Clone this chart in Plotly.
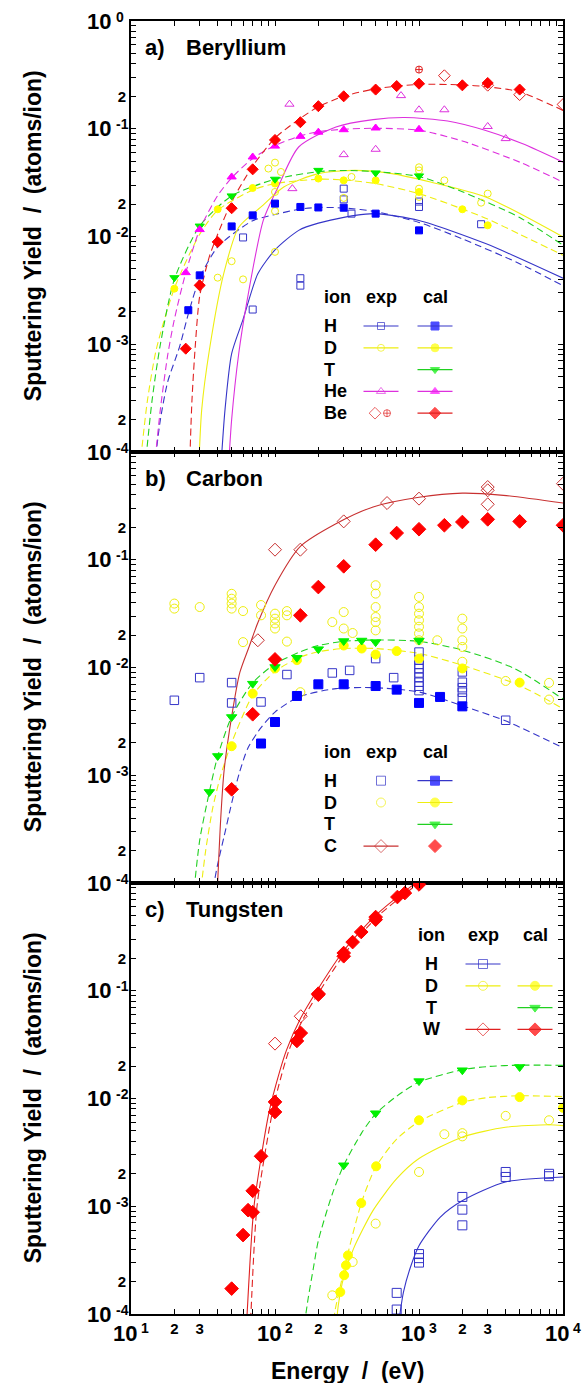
import math
import plotly.graph_objects as go
from plotly.subplots import make_subplots

FONT = "Liberation Sans, Arial, Helvetica, sans-serif"

# ---------------- axis ticks ----------------
x_major_vals = [10, 100, 1000, 10000]
x_major_exp = ["1", "2", "3", "4"]
x_small_vals = [20, 30, 200, 300, 2000, 3000]
x_small_text = ["2", "3", "2", "3", "2", "3"]
x_minor = [10, 40, 50, 60, 70, 80, 90, 100, 400, 500, 600, 700, 800, 900, 1000,
           4000, 5000, 6000, 7000, 8000, 9000, 10000]
y_major_vals = [1e-4, 1e-3, 1e-2, 1e-1, 1]
y_major_exp = ["-4", "-3", "-2", "-1", "0"]
y_small_vals = [2e-4, 2e-3, 2e-2, 2e-1]
y_small_text = ["2", "2", "2", "2"]
y_minor = [m * 10.0 ** d for d in range(-4, 0) for m in (1, 3, 4, 5, 6, 7, 8, 9)] + [1]

# ---------------- panel a : Beryllium ----------------
be_H_exp_E = [60, 70, 150, 150, 300, 300, 340, 1000, 1000, 2700]
be_H_exp_Y = [0.0098, 0.0021, 0.0041, 0.0035, 0.0278, 0.0221, 0.0163, 0.0211, 0.0188, 0.0130]
be_H_fit_E = [42, 45, 50, 60, 76, 100, 146, 200, 360, 500, 1000, 2900, 10000]
be_H_fit_Y = [7e-5, 2.5e-4, 8.2e-4, 1.7e-3, 4.5e-3, 7.5e-3, 0.0114, 0.0133, 0.0157, 0.0163, 0.0141, 0.0086, 0.0041]
be_H_cal_E = [25, 30, 50, 70, 100, 150, 200, 300, 500, 1000]
be_H_cal_Y = [0.00207, 0.00436, 0.0124, 0.0157, 0.0202, 0.0188, 0.0186, 0.0185, 0.0163, 0.0114]
be_H_cfit_E = [14.5, 16, 18, 21.7, 25.5, 30, 40, 70, 100, 150, 200, 300, 500, 1000, 2000, 5000, 10000]
be_H_cfit_Y = [7e-5, 2e-4, 4.5e-4, 9.4e-4, 2.1e-3, 4.1e-3, 8e-3, 0.0140, 0.0160, 0.0180, 0.0186, 0.0184, 0.0170, 0.0135, 0.0095, 0.0056, 0.0035]

be_D_exp_E = [40, 50, 60, 100, 100, 90, 110, 100, 100, 300, 340, 1000, 1000, 1000, 1000, 1500, 3000, 2700]
be_D_exp_Y = [0.00415, 0.0059, 0.0040, 0.0072, 0.0485, 0.0427, 0.0397, 0.0259, 0.0172, 0.0228, 0.0357,
              0.0439, 0.0411, 0.0278, 0.0233, 0.0332, 0.025, 0.0206]
be_D_fit_E = [29.5, 31, 35, 44, 56, 80, 115, 200, 360, 650, 1200, 2900, 10000]
be_D_fit_Y = [7e-5, 2.5e-4, 8.8e-4, 4.5e-3, 0.0122, 0.0188, 0.0288, 0.0383, 0.0411, 0.0383, 0.032, 0.0233, 0.0099]
be_D_cal_E = [20, 40, 70, 100, 200, 300, 500, 1000, 2000, 3000]
be_D_cal_Y = [0.00328, 0.0179, 0.0282, 0.031, 0.0345, 0.0332, 0.0332, 0.0259, 0.0179, 0.0127]
be_D_cfit_E = [11.5, 13, 15, 20, 30, 40, 70, 100, 200, 300, 500, 1000, 2000, 3000, 5000, 10000]
be_D_cfit_Y = [7e-5, 3e-4, 9e-4, 3.3e-3, 0.0105, 0.0175, 0.027, 0.031, 0.034, 0.0335, 0.031, 0.025, 0.018, 0.0145, 0.0105, 0.0067]

be_T_cal_E = [20, 30, 50, 100, 200, 500, 1000]
be_T_cal_Y = [0.00415, 0.0125, 0.0238, 0.034, 0.0411, 0.0389, 0.0365]
be_T_cfit_E = [12.5, 14, 16, 20, 30, 50, 100, 200, 300, 500, 1000, 2000, 5000, 10000]
be_T_cfit_Y = [7e-5, 3e-4, 1e-3, 4e-3, 0.0125, 0.0238, 0.034, 0.040, 0.041, 0.040, 0.036, 0.026, 0.015, 0.0083]

be_He_exp_E = [126, 132, 300, 500, 750, 1000, 1500, 3000, 4000]
be_He_exp_Y = [0.169, 0.0278, 0.0575, 0.0645, 0.203, 0.150, 0.150, 0.105, 0.081]
be_He_fit_E = [47.5, 50, 56, 63.5, 83, 105, 146, 265, 480, 800, 1580, 2870, 5200, 10000]
be_He_fit_Y = [7e-5, 2e-4, 8.2e-4, 2.4e-3, 0.0142, 0.0288, 0.0677, 0.104, 0.1216, 0.127, 0.118, 0.0968, 0.0728, 0.049]
be_He_cal_E = [24, 30, 50, 70, 100, 150, 200, 300, 500, 1000]
be_He_cal_Y = [0.00462, 0.0116, 0.0357, 0.0547, 0.069, 0.085, 0.093, 0.098, 0.1016, 0.0988]
be_He_cfit_E = [14.5, 16, 18, 20, 24, 30, 40, 50, 70, 100, 150, 200, 300, 500, 1000, 2000, 5000, 10000]
be_He_cfit_Y = [7e-5, 2.5e-4, 8e-4, 1.7e-3, 4.6e-3, 0.0116, 0.024, 0.035, 0.053, 0.07, 0.086, 0.094, 0.099,
                0.101, 0.097, 0.077, 0.049, 0.032]

be_Be_exp_E = [1500, 3000, 5000, 10000]
be_Be_exp_Y = [0.311, 0.253, 0.207, 0.168]
be_Be_exp2_E = [1000]
be_Be_exp2_Y = [0.354]
be_Be_cal_E = [24, 30, 40, 50, 70, 100, 150, 200, 300, 500, 700, 1000, 2000, 3000, 5000]
be_Be_cal_Y = [0.00091, 0.00352, 0.0089, 0.0183, 0.042, 0.0787, 0.115, 0.162, 0.200, 0.231, 0.249, 0.262,
               0.253, 0.266, 0.231]
be_Be_cfit_E = [25.5, 26.5, 28, 30, 35, 40, 50, 70, 100, 150, 200, 300, 500, 1000, 2000, 3000, 5000, 10000]
be_Be_cfit_Y = [7e-5, 3e-4, 1e-3, 2.8e-3, 6.5e-3, 0.0105, 0.021, 0.045, 0.082, 0.125, 0.16, 0.2, 0.235,
                0.258, 0.255, 0.245, 0.22, 0.148]

# ---------------- panel b : Carbon ----------------
c_H_exp_E = [20, 30, 50, 50, 80, 121, 250, 330, 500, 667,
             1000, 1000, 1000, 1000, 1000, 1000, 1000, 1000, 1000,
             2000, 2000, 2000, 2000, 2000, 4000]
c_H_exp_Y = [0.00496, 0.00805, 0.00724, 0.00469, 0.00479, 0.0086, 0.0089, 0.0094, 0.0121, 0.00805,
             0.0139, 0.0117, 0.0107, 0.0098, 0.0089, 0.0081, 0.0073, 0.0067, 0.0061,
             0.0091, 0.0073, 0.0065, 0.0059, 0.0052, 0.00324]
c_H_cal_E = [80, 100, 142, 200, 300, 500, 700, 1000, 1400, 2000]
c_H_cal_Y = [0.00197, 0.00312, 0.00544, 0.00698, 0.00698, 0.00673, 0.00623, 0.00469, 0.00533, 0.00436]
c_H_cfit_E = [36, 40, 44.3, 50, 56.3, 65, 80.5, 100, 146, 265, 481, 1000, 2010, 3980, 10000]
c_H_cfit_Y = [7e-5, 1.5e-4, 2.7e-4, 5.5e-4, 1.03e-3, 1.8e-3, 2.8e-3, 3.86e-3, 5.33e-3, 6.37e-3, 6.5e-3,
              5.93e-3, 4.4e-3, 3.2e-3, 1.8e-3]

c_D_exp_E = [20, 20, 30, 50, 50, 50, 50, 60, 80, 80, 100, 100, 100, 100, 121, 121, 60, 121, 250, 300, 300, 346,
             500, 500, 500, 500, 500, 500, 1000, 1000, 1000, 1000, 1000, 1000, 1000, 1340,
             2000, 2000, 2000, 2000, 2000, 4000, 8000, 8000, 150]
c_D_exp_Y = [0.0392, 0.0352, 0.0364, 0.0483, 0.0435, 0.0392, 0.0352, 0.0334, 0.038, 0.0305, 0.0316, 0.0284,
             0.0256, 0.023, 0.0334, 0.0305, 0.0172, 0.0174, 0.0264, 0.0327, 0.023, 0.0209,
             0.058, 0.0485, 0.0364, 0.0294, 0.0264, 0.0221, 0.0452, 0.0364, 0.0316, 0.0274, 0.0239, 0.0207,
             0.0179, 0.0179, 0.0284, 0.023, 0.0179, 0.0155, 0.0113, 0.0075, 0.0072, 0.00504, 0.0059]
c_D_cal_E = [50, 70, 100, 142, 300, 400, 500, 700, 1000, 2000, 5000]
c_D_cal_Y = [0.00186, 0.00573, 0.0098, 0.0117, 0.016, 0.0150, 0.0132, 0.0142, 0.0121, 0.0098, 0.00724]
c_D_cfit_E = [30, 33, 37, 42, 50, 70, 100, 150, 200, 300, 500, 1000, 2000, 5000, 10000]
c_D_cfit_Y = [7e-5, 2e-4, 5e-4, 1e-3, 2e-3, 5.5e-3, 0.0092, 0.0125, 0.014, 0.015, 0.015, 0.0135, 0.0105,
              0.0068, 0.00415]

c_T_cal_E = [35, 40, 50, 70, 100, 142, 200, 300, 400, 500, 1000]
c_T_cal_Y = [7e-4, 1.51e-3, 3.47e-3, 7.08e-3, 0.0101, 0.0123, 0.0148, 0.0176, 0.0178, 0.0172, 0.0178]
c_T_cfit_E = [27, 30, 35, 40, 50, 70, 100, 150, 200, 300, 500, 1000, 2000, 4600, 10000]
c_T_cfit_Y = [7e-5, 2.5e-4, 7e-4, 1.5e-3, 3.5e-3, 7.2e-3, 0.0108, 0.014, 0.016, 0.0175, 0.018, 0.0175,
              0.0145, 0.0098, 0.0051]

c_C_exp_E = [76, 100, 150, 300, 600, 1000, 3000, 3000, 3000, 10000]
c_C_exp_Y = [0.0179, 0.124, 0.124, 0.227, 0.336, 0.369, 0.473, 0.441, 0.327, 0.508]
c_C_fit_E = [39.5, 42, 44.3, 50, 57, 66, 76, 100, 150, 265, 480, 1000, 2000, 3860, 10000]
c_C_fit_Y = [7e-5, 4e-4, 1.1e-3, 3.5e-3, 9e-3, 0.0155, 0.026, 0.058, 0.133, 0.216, 0.309, 0.38, 0.415,
             0.396, 0.336]
c_C_cal_E = [50, 70, 100, 150, 200, 300, 500, 700, 1000, 1500, 2000, 3000, 5000, 10000]
c_C_cal_Y = [7.4e-4, 0.00368, 0.0119, 0.0305, 0.0558, 0.0869, 0.138, 0.177, 0.192, 0.209, 0.224, 0.237,
             0.227, 0.209]

# ---------------- panel c : Tungsten ----------------
w_H_exp_E = [700, 700, 1000, 1000, 1000, 2000, 2000, 2000, 4000, 4000, 8000, 8000]
w_H_exp_Y = [1.1e-4, 1.57e-4, 3.6e-4, 3.3e-4, 3.0e-4, 1.22e-3, 9.3e-4, 6.65e-4, 2.08e-3, 1.87e-3, 2.0e-3, 1.9e-3]
w_H_fit_E = [720, 780, 873, 1000, 1400, 2010, 3980, 10000]
w_H_fit_Y = [8e-5, 1.6e-4, 2.73e-4, 4.3e-4, 7.9e-4, 1.13e-3, 1.68e-3, 1.87e-3]

w_D_exp_E = [250, 346, 500, 1000, 1500, 2000, 2000, 4000, 8000]
w_D_exp_Y = [1.49e-4, 3.04e-4, 6.9e-4, 2.08e-3, 4.66e-3, 4.77e-3, 4.45e-3, 6.9e-3, 6.28e-3]
w_D_fit_E = [265, 275, 300, 350, 481, 700, 1000, 2010, 3980, 8000, 10000]
w_D_fit_Y = [7e-5, 1.2e-4, 2.2e-4, 4e-4, 9.2e-4, 1.8e-3, 2.77e-3, 4.4e-3, 5.4e-3, 5.7e-3, 5.6e-3]
w_D_cal_E = [284, 302, 311, 321, 397, 504, 1000, 2000, 5000, 10000]
w_D_cal_Y = [1.6e-4, 2.29e-4, 2.83e-4, 3.5e-4, 1.07e-3, 2.35e-3, 6.28e-3, 9.6e-3, 0.0103, 0.0082]
w_D_cfit_E = [250, 262, 284, 300, 320, 400, 500, 700, 1000, 2000, 3000, 5000, 10000]
w_D_cfit_Y = [7e-5, 1.1e-4, 1.8e-4, 2.5e-4, 3.6e-4, 1.1e-3, 2.3e-3, 4.2e-3, 6.1e-3, 9.2e-3, 0.0102, 0.0106, 0.0104]

w_T_cal_E = [300, 500, 1000, 2000, 5000]
w_T_cal_Y = [2.4e-3, 7.3e-3, 0.0145, 0.0183, 0.0196]
w_T_cfit_E = [160, 170, 185, 200, 250, 300, 400, 500, 700, 1000, 2000, 3000, 5000, 10000]
w_T_cfit_Y = [8e-5, 1.4e-4, 2.7e-4, 4.8e-4, 1.3e-3, 2.4e-3, 4.8e-3, 7.2e-3, 0.0105, 0.0142, 0.0185, 0.0198,
              0.0204, 0.0203]

w_W_exp_E = [100, 151]
w_W_exp_Y = [0.0323, 0.058]
w_W_fit_E = [63, 64, 71.5, 90, 100, 120, 150, 200, 300, 500, 900, 1100]
w_W_fit_Y = [7e-5, 1e-4, 1e-3, 7e-3, 0.0125, 0.028, 0.055, 0.105, 0.235, 0.5, 0.95, 1.15]
w_W_cal_E = [50, 60, 65, 70, 70, 80, 100, 100, 142, 151, 200, 200, 300, 300, 346, 397, 500, 500, 708, 798, 1000]
w_W_cal_Y = [1.72e-4, 5.4e-4, 9.2e-4, 8.8e-4, 1.39e-3, 2.91e-3, 7.5e-3, 9.3e-3, 0.0342, 0.0405, 0.094, 0.092,
             0.224, 0.209, 0.283, 0.351, 0.483, 0.457, 0.741, 0.807, 0.97]
w_W_cfit_E = [67, 68, 75, 95, 105, 125, 157, 210, 315, 525, 950, 1150]
w_W_cfit_Y = [7e-5, 1e-4, 1e-3, 7e-3, 0.0125, 0.028, 0.055, 0.105, 0.235, 0.5, 0.95, 1.15]

# ---------------- styles ----------------
BLUE, BLUE_L = "#0000ff", "#3535c8"
YEL, YEL_L = "#ffff00", "#eeee10"
GRN, GRN_L = "#00f000", "#20d020"
MAG, MAG_L = "#ff00ff", "#dd30dd"
RED, RED_L = "#ff0000", "#e02020"
DRED = "#c83030"

# page geometry (pixels) used for layout placement only
L, R, T, B, WID, HGT = 131, 21, 21, 69, 584, 1383
PW, PH = WID - L - R, HGT - T - B


def px(xp):
    return (xp - L) / PW


def py(yp):
    return (HGT - B - yp) / PH


fig = make_subplots(rows=3, cols=1, shared_xaxes=True, vertical_spacing=0)


def curve(row, E, Y, color, dash):
    fig.add_trace(go.Scatter(x=E, y=Y, mode="lines",
                             line=dict(color=color, width=1.1, dash=dash, shape="spline", smoothing=0.7),
                             showlegend=False, hoverinfo="skip"), row=row, col=1)


def pts(row, E, Y, symbol, color, size, lw=1.0):
    fig.add_trace(go.Scatter(x=E, y=Y, mode="markers",
                             marker=dict(symbol=symbol, size=size, color=color, line=dict(color=color, width=lw)),
                             showlegend=False, hoverinfo="skip"), row=row, col=1)


DASH = "7px,4px"
SOL = "solid"

# panel a
curve(1, be_H_fit_E, be_H_fit_Y, BLUE_L, SOL)
curve(1, be_H_cfit_E, be_H_cfit_Y, BLUE_L, DASH)
curve(1, be_D_fit_E, be_D_fit_Y, YEL_L, SOL)
curve(1, be_D_cfit_E, be_D_cfit_Y, YEL_L, DASH)
curve(1, be_T_cfit_E, be_T_cfit_Y, GRN_L, DASH)
curve(1, be_He_fit_E, be_He_fit_Y, MAG_L, SOL)
curve(1, be_He_cfit_E, be_He_cfit_Y, MAG_L, DASH)
curve(1, be_Be_cfit_E, be_Be_cfit_Y, RED_L, DASH)
pts(1, be_H_exp_E, be_H_exp_Y, "square-open", BLUE_L, 7)
pts(1, be_D_exp_E, be_D_exp_Y, "circle-open", YEL_L, 7)
pts(1, be_He_exp_E, be_He_exp_Y, "triangle-up-open", MAG_L, 8)
pts(1, be_Be_exp_E, be_Be_exp_Y, "diamond-open", RED_L, 9)
pts(1, be_Be_exp2_E, be_Be_exp2_Y, "circle-cross-open", RED_L, 7)
pts(1, be_H_cal_E, be_H_cal_Y, "square", BLUE, 7)
pts(1, be_D_cal_E, be_D_cal_Y, "circle", YEL, 7)
pts(1, be_T_cal_E, be_T_cal_Y, "triangle-down", GRN, 8)
pts(1, be_He_cal_E, be_He_cal_Y, "triangle-up", MAG, 8)
pts(1, be_Be_cal_E, be_Be_cal_Y, "diamond", RED, 8.5)

# panel b
curve(2, c_H_cfit_E, c_H_cfit_Y, BLUE_L, DASH)
curve(2, c_D_cfit_E, c_D_cfit_Y, YEL_L, DASH)
curve(2, c_T_cfit_E, c_T_cfit_Y, GRN_L, DASH)
curve(2, c_C_fit_E, c_C_fit_Y, DRED, SOL)
pts(2, c_D_exp_E, c_D_exp_Y, "circle-open", YEL_L, 9)
pts(2, c_H_exp_E, c_H_exp_Y, "square-open", BLUE_L, 8.5)
pts(2, c_C_exp_E, c_C_exp_Y, "diamond-open", DRED, 10)
pts(2, c_H_cal_E, c_H_cal_Y, "square", BLUE, 9)
pts(2, c_D_cal_E, c_D_cal_Y, "circle", YEL, 9)
pts(2, c_T_cal_E, c_T_cal_Y, "triangle-down", GRN, 9)
pts(2, c_C_cal_E, c_C_cal_Y, "diamond", RED, 10.5)

# panel c
curve(3, w_H_fit_E, w_H_fit_Y, BLUE_L, SOL)
curve(3, w_D_fit_E, w_D_fit_Y, YEL_L, SOL)
curve(3, w_D_cfit_E, w_D_cfit_Y, YEL_L, DASH)
curve(3, w_T_cfit_E, w_T_cfit_Y, GRN_L, DASH)
curve(3, w_W_fit_E, w_W_fit_Y, RED_L, SOL)
curve(3, w_W_cfit_E, w_W_cfit_Y, RED_L, DASH)
pts(3, w_H_exp_E, w_H_exp_Y, "square-open", BLUE_L, 9)
pts(3, w_D_exp_E, w_D_exp_Y, "circle-open", YEL_L, 9)
pts(3, w_W_exp_E, w_W_exp_Y, "diamond-open", RED_L, 10)
pts(3, w_D_cal_E, w_D_cal_Y, "circle", YEL, 9)
pts(3, w_T_cal_E, w_T_cal_Y, "triangle-down", GRN, 9)
pts(3, w_W_cal_E, w_W_cal_Y, "diamond", RED, 10.5)

# ---------------- axes ----------------
smallfont = dict(family=FONT, size=15, color="black", weight="bold")
common = dict(ticks="inside", ticklen=5, tickwidth=1, tickcolor="black", mirror="allticks",
              showline=True, linewidth=2, linecolor="black", showgrid=False, zeroline=False,
              tickfont=smallfont, tickmode="array")

for r in (1, 2, 3):
    fig.update_yaxes(type="log", range=[-4, 0], tickvals=y_small_vals, ticktext=y_small_text,
                     minor=dict(tickmode="array", tickvals=y_minor, ticks="inside", ticklen=5,
                                tickcolor="black", tickwidth=1, showgrid=False),
                     row=r, col=1, **common)
    fig.update_xaxes(type="log", range=[1, 4], tickvals=x_small_vals, ticktext=x_small_text,
                     minor=dict(tickmode="array", tickvals=x_minor, ticks="inside", ticklen=5,
                                tickcolor="black", tickwidth=1, showgrid=False),
                     row=r, col=1, **common)

# dotted grid at decades (layout decoration derived from tick values)
shapes = []
GRID = dict(color="#8a8a8a", width=1.3, dash="2px,5px")
for r in (1, 2, 3):
    xs = "x" if r == 1 else "x%d" % r
    ys = "y" if r == 1 else "y%d" % r
    for v in x_major_vals[1:-1]:
        shapes.append(dict(type="line", xref=xs, yref=ys + " domain", x0=math.log10(v), x1=math.log10(v),
                           y0=0, y1=1, line=GRID, layer="below"))
    for v in y_major_vals[1:-1]:
        shapes.append(dict(type="line", xref=xs + " domain", yref=ys, x0=0, x1=1,
                           y0=math.log10(v), y1=math.log10(v), line=GRID, layer="below"))

annotations = []


def text(x, y, s, size, anchor="left", angle=0):
    annotations.append(dict(x=px(x), y=py(y), xref="paper", yref="paper", text=s, showarrow=False,
                            xanchor=anchor, yanchor="middle", textangle=angle,
                            font=dict(family=FONT, size=size, color="black", weight="bold")))


BIGFONT = dict(family=FONT, size=22, color="black", weight="bold")
EXPFONT = dict(family=FONT, size=14, color="black", weight="bold")
# decade labels: "10" with a raised exponent
for v, e in zip(x_major_vals, x_major_exp):
    annotations.append(dict(x=math.log10(v), xref="x3", y=py(1333), yref="paper", text="10",
                            showarrow=False, xanchor="center", yanchor="middle", xshift=-6,
                            font=BIGFONT))
    annotations.append(dict(x=math.log10(v), xref="x3", y=py(1327.5), yref="paper", text=e,
                            showarrow=False, xanchor="left", yanchor="middle", xshift=7.5,
                            font=EXPFONT))
for r in (1, 2, 3):
    ys = "y" if r == 1 else "y%d" % r
    nv = len(y_major_vals) if r == 1 else len(y_major_vals) - 1
    for v, e in zip(y_major_vals[:nv], y_major_exp[:nv]):
        annotations.append(dict(x=px(113), xref="paper", y=math.log10(v), yref=ys, text="10",
                                showarrow=False, xanchor="right", yanchor="middle",
                                font=BIGFONT))
        annotations.append(dict(x=px(113.5), xref="paper", y=math.log10(v), yref=ys, text=e,
                                showarrow=False, xanchor="left", yanchor="middle", yshift=4.5,
                                font=EXPFONT))

# panel labels
for lab, name, yy in (("a)", "Beryllium", 47.3), ("b)", "Carbon", 478.3), ("c)", "Tungsten", 909.3)):
    text(143, yy, lab, 22)
    text(184, yy, name, 22)

# axis titles
ytitle = "Sputtering Yield\u00a0 /\u00a0 (atoms/ion)"
for yc in (236.2, 667.2, 1098.3):
    text(33, yc, ytitle, 23, anchor="center", angle=-90)
text(347, 1371, "Energy\u00a0 /\u00a0 (eV)", 23, anchor="center")

# ---------------- hand-drawn legends ----------------
lx, ly, lsym, lcol, lsz = [], [], [], [], []


def key(xc, yc, half, line_color, symbol, color, size):
    if line_color:
        shapes.append(dict(type="line", xref="paper", yref="paper", x0=px(xc - half), x1=px(xc + half),
                           y0=py(yc), y1=py(yc), line=dict(color=line_color, width=1.2), layer="above"))
    if symbol:
        lx.append(px(xc)); ly.append(py(yc)); lsym.append(symbol); lcol.append(color); lsz.append(size)


def legend(hy, rows, xl, xe, xc, anchor, dy=21.8):
    text(xl, hy, "ion", 18, anchor=anchor)
    text(xe, hy, "exp", 18, anchor="center")
    text(xc, hy, "cal", 18, anchor="center")
    for i, (lab, ex, ca) in enumerate(rows):
        yy = hy + 29 + i * dy
        text(xl, yy, lab, 18, anchor=anchor)
        for spec, x0 in ((ex, xe), (ca, xc)):
            if spec is None:
                continue
            if spec.get("line"):
                key(x0, yy, 17.5, spec["line"], None, None, None)
            for (sym, col, sz, off) in spec["m"]:
                key(x0 + off, yy, 17.5, None, sym, col, sz)


legend(297, [
    ("H", dict(line=BLUE_L, m=[("square-open", BLUE_L, 7, 0)]), dict(line=BLUE_L, m=[("square", BLUE, 8, 0)])),
    ("D", dict(line=YEL_L, m=[("circle-open", YEL_L, 7, 0)]), dict(line=YEL_L, m=[("circle", YEL, 8, 0)])),
    ("T", None, dict(line=GRN_L, m=[("triangle-down", GRN, 8, 0)])),
    ("He", dict(line=MAG_L, m=[("triangle-up-open", MAG_L, 8, 0)]), dict(line=MAG_L, m=[("triangle-up", MAG, 8, 0)])),
    ("Be", dict(m=[("diamond-open", RED_L, 9, -6), ("circle-cross-open", RED_L, 7, 6)]),
     dict(line=RED_L, m=[("diamond", RED, 9, 0)])),
], 322, 381, 435, "left")

legend(751.7, [
    ("H", dict(m=[("square-open", BLUE_L, 9, 0)]), dict(line=BLUE_L, m=[("square", BLUE, 9, 0)])),
    ("D", dict(m=[("circle-open", YEL_L, 9, 0)]), dict(line=YEL_L, m=[("circle", YEL, 9, 0)])),
    ("T", None, dict(line=GRN_L, m=[("triangle-down", GRN, 9, 0)])),
    ("C", dict(line=DRED, m=[("diamond-open", DRED, 10, 0)]), dict(m=[("diamond", RED, 10, 0)])),
], 322, 381, 435, "left")

legend(935, [
    ("H", dict(line=BLUE_L, m=[("square-open", BLUE_L, 9, 0)]), None),
    ("D", dict(line=YEL_L, m=[("circle-open", YEL_L, 9, 0)]), dict(line=YEL_L, m=[("circle", YEL, 9, 0)])),
    ("T", None, dict(line=GRN_L, m=[("triangle-down", GRN, 9, 0)])),
    ("W", dict(line=RED_L, m=[("diamond-open", RED_L, 10, 0)]), dict(line=RED_L, m=[("diamond", RED, 10, 0)])),
], 431, 483, 535, "center")

fig.add_trace(go.Scatter(x=lx, y=ly, mode="markers", xaxis="x4", yaxis="y4", cliponaxis=False,
                         marker=dict(symbol=lsym, color=lcol, size=lsz, line=dict(color=lcol, width=1)),
                         showlegend=False, hoverinfo="skip"))

fig.update_layout(
    width=WID, height=HGT,
    margin=dict(l=L, r=R, t=T, b=B),
    paper_bgcolor="white", plot_bgcolor="rgba(0,0,0,0)",
    showlegend=False,
    shapes=shapes, annotations=annotations,
    font=dict(family=FONT, color="black"),
    xaxis4=dict(domain=[0, 1], range=[0, 1], visible=False, anchor="y4", fixedrange=True),
    yaxis4=dict(domain=[0, 1], range=[0, 1], visible=False, anchor="x4", fixedrange=True),
)

fig.write_html("out.html")
